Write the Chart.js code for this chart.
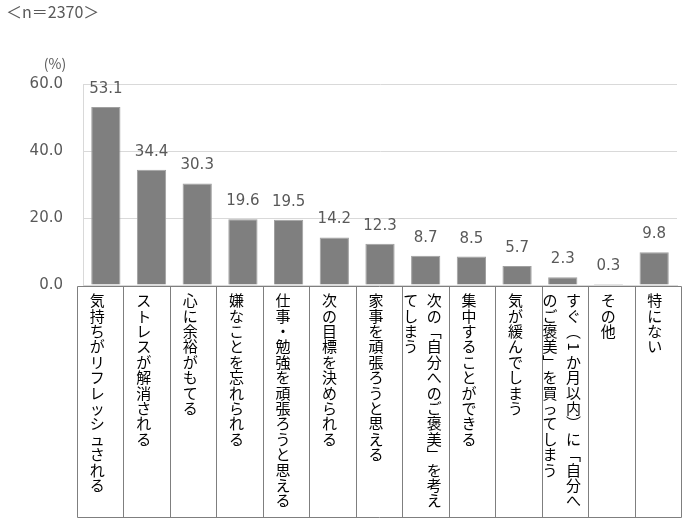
<!DOCTYPE html>
<html><head><meta charset="utf-8">
<script src="https://cdn.jsdelivr.net/npm/chart.js@4"></script>
<style>html,body{margin:0;padding:0;background:#fff}#wrap{width:687px;height:520px}</style>
</head><body><div id="wrap"><canvas id="c" width="687" height="520"></canvas></div>
<script>
const categories = [
  '気持ちがリフレッシュされる',
  'ストレスが解消される',
  '心に余裕がもてる',
  '嫌なことを忘れられる',
  '仕事・勉強を頑張ろうと思える',
  '次の目標を決められる',
  '家事を頑張ろうと思える',
  '次の「自分へのご褒美」を考えてしまう',
  '集中することができる',
  '気が緩んでしまう',
  'すぐ（1か月以内）に「自分へのご褒美」を買ってしまう',
  'その他',
  '特にない'
];
const values = [53.1, 34.4, 30.3, 19.6, 19.5, 14.2, 12.3, 8.7, 8.5, 5.7, 2.3, 0.3, 9.8];
const yTickStep = 20;
const yMax = 60;
const sampleNote = '＜n＝2370＞';
const unitLabel = '(%)';

const VERT = {'「':'﹁','」':'﹂','（':'︵','）':'︶','、':'︑','。':'︒'};
const PER_COL = 14;

function drawVertical(ctx, text, cx, firstCenter, step, colGap) {
  const chars = [...text];
  const cols = [];
  for (let i = 0; i < chars.length; i += PER_COL) cols.push(chars.slice(i, i + PER_COL));
  const n = cols.length;
  cols.forEach((col, k) => {
    const x = cx + (n - 1) * colGap / 2 - k * colGap;
    col.forEach((ch, j) => {
      const y = firstCenter + j * step;
      if (/[0-9A-Za-z]/.test(ch)) {
        ctx.save();
        ctx.translate(x, y);
        ctx.rotate(Math.PI / 2);
        ctx.fillText(ch, 0, 0);
        ctx.restore();
      } else {
        ctx.fillText(VERT[ch] || ch, x, y);
      }
    });
  });
}

const decor = {
  id: 'decor',
  afterDatasetsDraw(chart) {
    const ctx = chart.ctx;
    const meta = chart.getDatasetMeta(0);
    ctx.save();
    ctx.font = '15px "DejaVu Sans"';
    ctx.fillStyle = '#595959';
    ctx.textAlign = 'center';
    ctx.textBaseline = 'alphabetic';
    meta.data.forEach((bar, i) => {
      ctx.fillText(values[i].toFixed(1), bar.x, bar.y - 14);
    });
    ctx.restore();
  },
  afterDraw(chart) {
    const ctx = chart.ctx;
    const area = chart.chartArea;
    ctx.save();
    // header texts
    ctx.fillStyle = '#595959';
    ctx.font = '16px "Noto Sans CJK JP"';
    ctx.textAlign = 'left';
    ctx.textBaseline = 'middle';
    ctx.fillText(sampleNote, 6, 12);
    ctx.textAlign = 'center';
    ctx.font = '14px "Noto Sans CJK JP"';
    ctx.fillText(unitLabel, 55, 64);
    // label boxes
    const n = categories.length;
    const left = area.left - 6;
    const w = (area.width + 10) / n;
    const top = area.bottom + 1.5;
    const bottom = 517.5;
    ctx.strokeStyle = '#7f7f7f';
    ctx.lineWidth = 1;
    ctx.beginPath();
    for (let i = 0; i <= n; i++) {
      const x = Math.round(left + i * w) + 0.5;
      ctx.moveTo(x, top); ctx.lineTo(x, bottom);
    }
    ctx.moveTo(Math.round(left) + 0.5, top); ctx.lineTo(Math.round(left + n * w) + 0.5, top);
    ctx.moveTo(Math.round(left) + 0.5, bottom); ctx.lineTo(Math.round(left + n * w) + 0.5, bottom);
    ctx.stroke();
    ctx.fillStyle = '#000';
    ctx.font = '15px "Noto Sans CJK JP"';
    ctx.textAlign = 'center';
    ctx.textBaseline = 'middle';
    categories.forEach((label, i) => {
      const cx = left + (i + 0.5) * w - 3;
      drawVertical(ctx, label, cx, top + 14, 15.4, 23.5);
    });
    ctx.restore();
  }
};

new Chart(document.getElementById('c'), {
  type: 'bar',
  data: {
    labels: categories,
    datasets: [{
      data: values,
      backgroundColor: '#7f7f7f',
      borderColor: '#a0a0a0',
      borderWidth: 1,
      barPercentage: 0.64,
      categoryPercentage: 1.0
    }]
  },
  options: {
    responsive: false,
    animation: false,
    layout: { padding: { top: 84, right: 10, bottom: 227, left: 0 } },
    plugins: { legend: { display: false }, tooltip: { enabled: false } },
    scales: {
      x: {
        ticks: { display: false },
        grid: { display: false },
        border: { display: true, color: '#d9d9d9' }
      },
      y: {
        min: 0, max: yMax,
        ticks: {
          stepSize: yTickStep,
          padding: 20,
          color: '#595959',
          font: { family: 'DejaVu Sans', size: 15 },
          callback: v => Number(v).toFixed(1)
        },
        grid: { color: '#d9d9d9', drawTicks: false },
        border: { display: true, color: '#d9d9d9' },
        afterFit: s => { s.width = 83; }
      }
    }
  },
  plugins: [decor]
});
</script></body></html>
